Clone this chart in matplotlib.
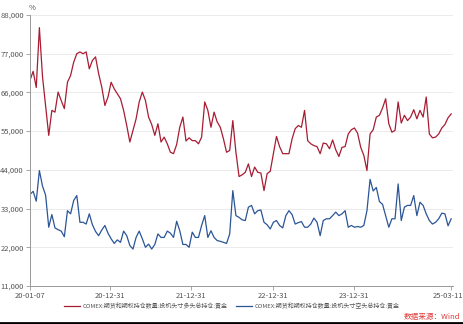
import numpy as np
import pandas as pd
import matplotlib
matplotlib.use("Agg")
import matplotlib.pyplot as plt
from matplotlib.ticker import FuncFormatter, MultipleLocator
from matplotlib.lines import Line2D
from matplotlib.transforms import ScaledTranslation

plt.rcParams['font.family'] = ['Noto Sans CJK SC', 'DejaVu Sans']

# biweekly observation dates, 2020-01-07 .. 2025-03-11
dates = pd.date_range('2020-01-07', periods=136, freq='14D')

# speculative long positions, gold (contracts)
long_pos = [
    69500, 72000, 67400, 84400, 70500, 62000, 53800, 60900, 60400, 66100,
    63700, 61400, 68900, 70800, 74600, 77000, 77500, 77000, 77500, 72700,
    75100, 76100, 71300, 67500, 62300, 64700, 68900, 67000, 65600, 64200,
    60900, 56600, 51900, 55200, 58500, 63300, 66100, 63700, 59000, 56900,
    53800, 57100, 51900, 53300, 51400, 49000, 48600, 51200, 56100, 59000,
    52200, 53100, 52300, 52300, 51400, 53300, 63300, 60900, 56100, 60400,
    57600, 56100, 52800, 49000, 49500, 58000, 49000, 42100, 42600, 43300,
    45700, 42100, 44800, 43300, 43100, 38100, 42900, 43600, 48600, 53500,
    50600, 48600, 48600, 48600, 52800, 55700, 56600, 56100, 60900, 52300,
    51400, 50900, 50600, 48600, 51600, 51400, 50000, 52500, 49700, 47800,
    50400, 50600, 54200, 55400, 55900, 54400, 50400, 48100, 43800, 54200,
    55400, 59000, 59500, 61600, 64200, 57100, 54700, 55200, 63300, 57300,
    59500, 58000, 59000, 61100, 58500, 60900, 59000, 64700, 54200, 53100,
    53300, 54200, 55900, 56900, 58800, 59900,
]

# speculative short positions, gold (contracts)
short_pos = [
    37000, 37900, 35100, 43800, 39400, 36800, 27700, 31300, 27500, 27000,
    26600, 25000, 32400, 31500, 35300, 36700, 29100, 29100, 28600, 31500,
    28400, 26500, 25300, 26900, 28200, 26000, 24400, 23100, 24100, 23400,
    26600, 25300, 22500, 21500, 24800, 26600, 24400, 22000, 22900, 21500,
    22800, 25800, 24800, 24800, 26600, 26000, 24800, 29400, 26700, 22800,
    22800, 22000, 26300, 24800, 24800, 28200, 31000, 24800, 26700, 24800,
    23900, 23700, 23400, 23100, 25800, 38100, 31000, 30500, 29800, 29600,
    33400, 33900, 31500, 32400, 32600, 29100, 28400, 27200, 29100, 29600,
    28200, 27500, 31000, 32400, 31300, 28600, 29000, 29300, 27700, 27700,
    28600, 30300, 29100, 25300, 29600, 30100, 30100, 31000, 32000, 31000,
    31500, 32400, 27700, 28200, 27700, 27900, 27700, 28200, 32400, 41300,
    38000, 39000, 35000, 34200, 31000, 27700, 30100, 30100, 40000, 29600,
    33400, 33900, 33900, 36700, 31000, 34800, 33900, 31500, 29600, 28600,
    29100, 30100, 31700, 31500, 28100, 30100,
]

tick_dates = pd.to_datetime(['2020-01-07', '2020-12-31', '2021-12-31',
                             '2022-12-31', '2023-12-31', '2025-03-11'])
tick_labels = ['20-01-07', '20-12-31', '21-12-31', '22-12-31', '23-12-31', '25-03-11']

long_label = 'COMEX:期货和期权持仓数量:投机头寸多头总持仓:黄金'
short_label = 'COMEX:期货和期权持仓数量:投机头寸空头总持仓:黄金'

fig = plt.figure(figsize=(4.64, 3.24), dpi=100)
ax = fig.add_axes([0.0647, 0.1173, 0.912, 0.8364])

ax.plot(dates, long_pos, color='#a81c33', lw=0.9, label=long_label)
ax.plot(dates, short_pos, color='#2b5597', lw=0.9, label=short_label)

ax.set_ylim(11000, 88000)
ax.yaxis.set_major_locator(MultipleLocator(11000))
ax.yaxis.set_major_formatter(FuncFormatter(lambda v, p: f'{int(v):,}'))
ax.set_xlim(pd.Timestamp('2020-01-07'), pd.Timestamp('2025-03-20'))
ax.set_xticks(tick_dates)
ax.set_xticklabels(tick_labels)

ax.grid(axis='y', color='#e8e8e8', lw=0.6)
ax.set_axisbelow(True)
for s in ['top', 'right']:
    ax.spines[s].set_visible(False)
for s in ['left', 'bottom']:
    ax.spines[s].set_color('#999999')
    ax.spines[s].set_linewidth(0.7)
ax.tick_params(axis='both', labelsize=5.5, colors='#999999', labelcolor='#555555',
               length=3, width=0.6, pad=1.5)

# keep the last date label inside the picture
last = ax.get_xticklabels()[-1]
last.set_ha('right')
last.set_transform(last.get_transform() + ScaledTranslation(0.12, 0, fig.dpi_scale_trans))

fig.text(0.061, 0.975, '%', fontsize=5.5, color='#555555', ha='left', va='center')

fig.legend(loc='center', bbox_to_anchor=(0.5, 0.056), ncol=2, frameon=False,
           fontsize=4.3, handlelength=2.6, columnspacing=1.5, handletextpad=0.5,
           labelcolor='#555555')

fig.text(0.992, 0.022, '数据来源：Wind', fontsize=5.5, color='#e03a3a',
         ha='right', va='center')
fig.add_artist(Line2D([0, 1], [0.003, 0.003], color='black', lw=2))

fig.savefig('out.png', dpi=100)
